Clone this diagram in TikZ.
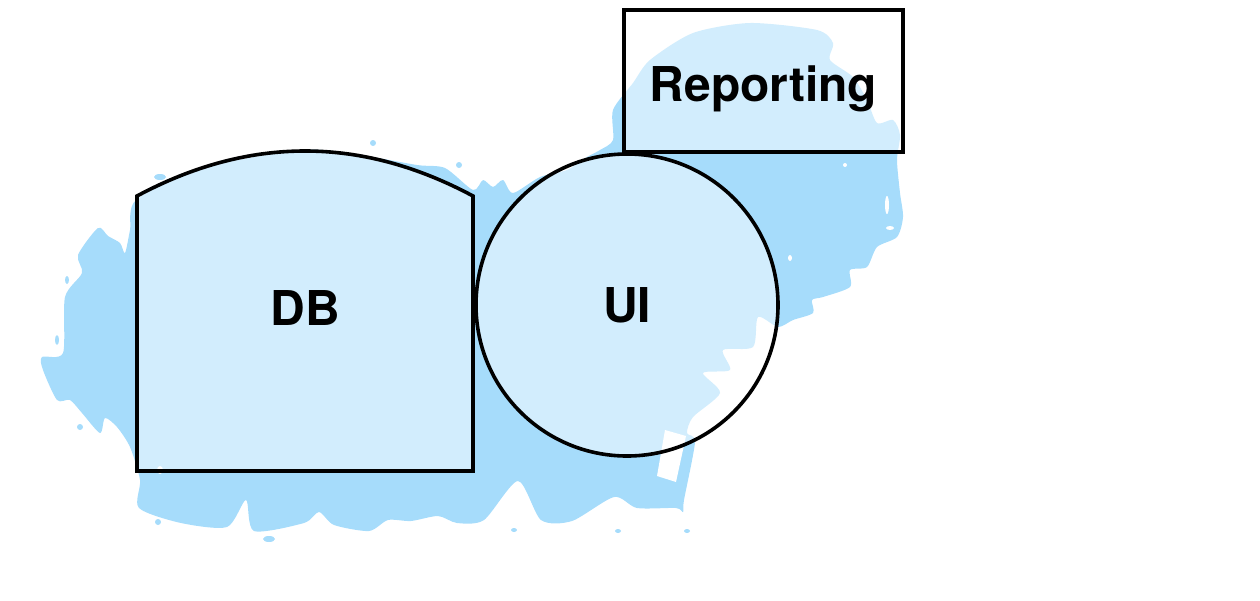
\documentclass[tikz,border=0pt]{standalone}
\usepackage{fontspec}
\setmainfont{TeX Gyre Heros}
\definecolor{splashblue}{HTML}{A6DCFB}
\tikzset{
  splash/.style={fill=splashblue, draw=none},
  speck/.style={fill=white, draw=none},
  shapebox/.style={draw=black, line width=3.6pt, fill=white, fill opacity=0.5, text opacity=1},
  lbl/.style={font=\fontsize{48}{52}\selectfont\bfseries, text=black}
}
\begin{document}
\begin{tikzpicture}[x=1pt,y=-1pt]
\useasboundingbox (0,0) rectangle (1260,600);
% splash background
\fill[splash] plot[smooth cycle, tension=0.45] coordinates {
 (98,228) (108,236) (120,243) (125,253) (130,230) (136,200)
 (200,168) (305,150) (360,155) (417,165) (445,168) (473,190)
 (483,180) (493,187) (503,180) (513,193) (540,177) (567,170) (587,157) (600,150) (613,140) (613,110)
 (633,83) (650,60) (693,33) (750,23) (817,30) (833,43) (830,60) (853,77) (867,100) (877,123) (893,120)
 (900,135) (897,160) (900,193) (903,217) (897,237) (877,247) (867,267) (850,270) (850,287) (823,297)
 (812,300) (813,313) (793,320) (778,327) (758,317) (753,347) (723,350) (730,370) (703,373) (720,393)
 (693,417) (687,433) (695,442) (684,500) (683,512) (676,508) (637,508) (614,497) (572,521) (541,520)
 (518,481) (484,520) (457,523) (438,516) (411,521) (388,520) (369,531) (334,525) (319,512) (304,523)
 (254,531) (246,500) (227,527) (181,523) (139,508) (140,480) (130,447) (117,427) (105,418) (100,433)
 (82,413) (70,400) (57,400) (43,370) (42,357) (63,353) (65,297) (82,273) (78,255)};
% white stripe below the circle
\fill[speck] (665,430) -- (686,436) -- (676,482) -- (657,476) -- cycle;
% white specks
\fill[speck] (887,205) ellipse (2 and 9);
\fill[speck] (890,228) ellipse (4 and 2);
\fill[speck] (790,258) ellipse (2 and 3);
\fill[speck] (845,165) ellipse (2 and 2);
\fill[speck] (160,470) ellipse (3 and 4);
% blue drops
\fill[splash] (158,522) ellipse (3 and 3);
\fill[splash] (269,539) ellipse (6 and 3);
\fill[splash] (514,530) ellipse (3 and 2);
\fill[splash] (618,531) ellipse (3 and 2);
\fill[splash] (687,531) ellipse (3 and 2);
\fill[splash] (67,280) ellipse (2 and 4);
\fill[splash] (57,340) ellipse (2 and 5);
\fill[splash] (80,427) ellipse (3 and 3);
\fill[splash] (160,177) ellipse (6 and 3);
\fill[splash] (373,143) ellipse (3 and 3);
\fill[splash] (459,165) ellipse (3 and 3);
% DB shape
\draw[shapebox] (137,471) -- (137,196) .. controls (249,136) and (361,136) .. (473,196) -- (473,471) -- cycle;
\node[lbl] (db) at (305,308) {DB};
% UI circle
\node[shapebox, circle, minimum size=302pt, inner sep=0pt, lbl] (ui) at (627,305) {UI};
% Reporting box
\node[shapebox, rectangle, minimum width=279pt, minimum height=142pt, inner sep=0pt, text height=40pt, text depth=0pt, lbl] (rep) at (763.5,81) {Reporting};
\end{tikzpicture}
\end{document}
